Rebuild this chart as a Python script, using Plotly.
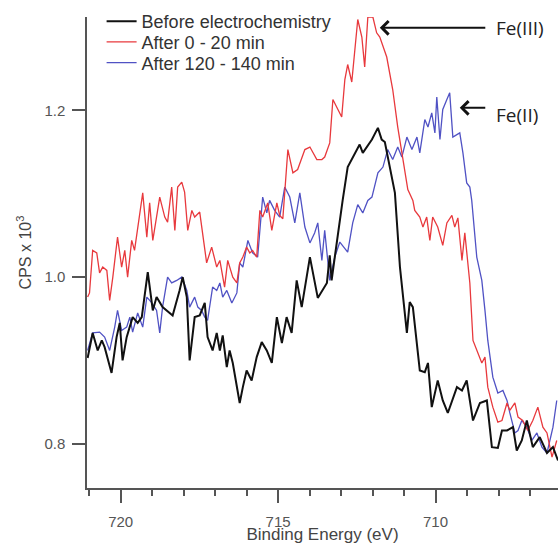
import plotly.graph_objects as go

# Binding energy (eV) and CPS x 10^3 values
before_energy = [721.05, 720.89, 720.73, 720.60, 720.51, 720.29, 720.13, 720.03, 719.94, 719.81,
                 719.62, 719.46, 719.33, 719.14, 718.98, 718.86, 718.67, 718.35, 718.13, 718.03,
                 717.90, 717.81, 717.65, 717.49, 717.33, 717.24, 717.08, 716.95, 716.85, 716.76,
                 716.63, 716.54, 716.44, 716.22, 716.12, 716.00, 715.84, 715.68, 715.52, 715.36,
                 715.20, 715.04, 714.88, 714.73, 714.57, 714.41, 714.25, 713.99, 713.74, 713.45,
                 713.36, 713.30, 713.20, 713.04, 712.95, 712.79, 712.41, 712.31, 712.18, 712.02,
                 711.83, 711.71, 711.61, 711.45, 711.29, 711.13, 710.91, 710.82, 710.72, 710.50,
                 710.34, 710.24, 710.12, 709.93, 709.77, 709.61, 709.32, 709.16, 709.01, 708.81,
                 708.59, 708.37, 708.21, 708.02, 707.89, 707.73, 707.54, 707.42, 707.26, 707.10,
                 706.91, 706.69, 706.46, 706.27, 706.11]
before_cps = [0.903, 0.933, 0.912, 0.924, 0.916, 0.885, 0.928, 0.945, 0.900, 0.928,
              0.952, 0.945, 0.952, 1.006, 0.960, 0.976, 0.964, 0.954, 0.984, 1.000,
              0.976, 0.900, 0.952, 0.954, 0.969, 0.928, 0.912, 0.933, 0.912, 0.930,
              0.892, 0.912, 0.897, 0.849, 0.868, 0.888, 0.876, 0.904, 0.922, 0.912,
              0.897, 0.952, 0.921, 0.952, 0.933, 0.996, 0.964, 1.024, 0.975, 0.993,
              1.026, 0.996, 1.024, 1.072, 1.092, 1.132, 1.159, 1.149, 1.156, 1.165,
              1.179, 1.165, 1.162, 1.132, 1.101, 1.012, 0.933, 0.970, 0.964, 0.888,
              0.886, 0.897, 0.844, 0.876, 0.852, 0.837, 0.868, 0.864, 0.876, 0.828,
              0.849, 0.852, 0.796, 0.795, 0.816, 0.816, 0.820, 0.792, 0.804, 0.828,
              0.796, 0.808, 0.789, 0.796, 0.780]

early_energy = [721.05, 720.99, 720.89, 720.76, 720.67, 720.57, 720.44, 720.35, 720.25, 720.10,
                719.97, 719.87, 719.78, 719.65, 719.56, 719.40, 719.30, 719.17, 719.08, 718.98,
                718.76, 718.60, 718.51, 718.38, 718.28, 718.19, 718.06, 717.97, 717.87, 717.74,
                717.65, 717.49, 717.27, 717.11, 716.95, 716.85, 716.70, 716.60, 716.44, 716.31,
                716.22, 716.12, 716.00, 715.90, 715.81, 715.68, 715.58, 715.49, 715.33, 715.20,
                715.04, 714.95, 714.85, 714.69, 714.53, 714.38, 714.15, 713.99, 713.77, 713.61,
                713.52, 713.36, 713.26, 713.10, 712.98, 712.88, 712.79, 712.66, 712.56, 712.47,
                712.34, 712.25, 712.15, 711.99, 711.87, 711.77, 711.55, 711.36, 711.20, 711.04,
                710.88, 710.72, 710.66, 710.50, 710.40, 710.28, 710.18, 710.09, 709.93, 709.77,
                709.64, 709.48, 709.39, 709.29, 709.16, 709.07, 708.91, 708.81, 708.66, 708.53,
                708.43, 708.34, 708.18, 708.02, 707.89, 707.73, 707.64, 707.48, 707.38, 707.23,
                707.07, 706.91, 706.75, 706.59, 706.46, 706.30, 706.15]
early_cps = [0.976, 0.981, 1.032, 1.029, 1.005, 1.012, 1.008, 0.972, 1.000, 1.048,
             1.012, 1.032, 1.000, 1.044, 1.032, 1.072, 1.101, 1.048, 1.089, 1.044,
             1.096, 1.072, 1.066, 1.108, 1.056, 1.108, 1.114, 1.102, 1.056, 1.080,
             1.072, 1.078, 1.017, 1.036, 1.012, 1.020, 0.988, 1.020, 1.000, 0.993,
             1.017, 1.024, 1.036, 1.029, 1.032, 1.024, 1.080, 1.072, 1.089, 1.056,
             1.089, 1.074, 1.070, 1.153, 1.125, 1.129, 1.153, 1.156, 1.141, 1.141,
             1.144, 1.161, 1.213, 1.201, 1.192, 1.237, 1.255, 1.234, 1.273, 1.309,
             1.288, 1.252, 1.312, 1.312, 1.293, 1.288, 1.264, 1.225, 1.180, 1.141,
             1.105, 1.092, 1.080, 1.072, 1.060, 1.072, 1.044, 1.072, 1.060, 1.038,
             1.065, 1.074, 1.060, 1.071, 1.020, 1.053, 0.993, 0.924, 0.909, 0.897,
             0.904, 0.868, 0.844, 0.826, 0.828, 0.849, 0.840, 0.849, 0.832, 0.828,
             0.816, 0.828, 0.844, 0.820, 0.813, 0.784, 0.804]

late_energy = [721.05, 720.89, 720.67, 720.51, 720.35, 720.19, 720.10, 719.97, 719.81, 719.71,
               719.62, 719.46, 719.30, 719.17, 719.01, 718.86, 718.76, 718.67, 718.51, 718.38,
               718.22, 718.06, 717.90, 717.81, 717.65, 717.55, 717.43, 717.33, 717.24, 717.08,
               716.95, 716.85, 716.76, 716.63, 716.47, 716.31, 716.22, 716.12, 715.96, 715.81,
               715.65, 715.49, 715.36, 715.27, 715.11, 714.95, 714.79, 714.63, 714.47, 714.31,
               714.15, 713.99, 713.84, 713.74, 713.61, 713.52, 713.36, 713.20, 713.04, 712.79,
               712.63, 712.47, 712.31, 712.15, 712.02, 711.83, 711.67, 711.52, 711.36, 711.20,
               711.07, 710.91, 710.75, 710.59, 710.50, 710.34, 710.24, 710.12, 710.02, 709.96,
               709.86, 709.77, 709.64, 709.55, 709.45, 709.23, 709.13, 709.01, 708.91, 708.85,
               708.69, 708.53, 708.43, 708.34, 708.18, 708.02, 707.86, 707.73, 707.64, 707.48,
               707.38, 707.26, 707.10, 706.94, 706.78, 706.62, 706.46, 706.27, 706.15]
late_cps = [0.912, 0.933, 0.934, 0.928, 0.912, 0.940, 0.960, 0.936, 0.940, 0.952,
            0.934, 0.957, 0.940, 0.976, 0.969, 0.960, 0.933, 0.964, 1.000, 0.993,
            0.996, 1.000, 0.984, 0.964, 0.976, 0.964, 0.960, 0.952, 0.948, 0.988,
            0.984, 0.993, 0.976, 0.984, 0.969, 0.981, 1.017, 1.012, 1.044, 1.029,
            1.024, 1.096, 1.077, 1.092, 1.080, 1.072, 1.108, 1.096, 1.065, 1.101,
            1.060, 1.041, 1.053, 1.065, 1.020, 1.056, 0.996, 1.024, 1.042, 1.030,
            1.065, 1.087, 1.077, 1.092, 1.096, 1.125, 1.132, 1.153, 1.141, 1.156,
            1.144, 1.168, 1.153, 1.168, 1.149, 1.189, 1.180, 1.197, 1.173, 1.216,
            1.165, 1.201, 1.213, 1.221, 1.168, 1.173, 1.149, 1.113, 1.108, 1.092,
            1.024, 0.996, 0.960, 0.924, 0.880, 0.861, 0.864, 0.852, 0.837, 0.813,
            0.816, 0.828, 0.820, 0.804, 0.813, 0.796, 0.789, 0.820, 0.852]

series_names = ["Before electrochemistry", "After 0 - 20 min", "After 120 - 140 min"]
x_tick_values = [720, 715, 710]
y_tick_values = [0.8, 1.0, 1.2]
peak_labels = ["Fe(III)", "Fe(II)"]
peak_positions = [711.77, 709.23]   # eV where arrows point
peak_levels = [1.299, 1.203]

AX = "#555555"
FONT = "Liberation Sans, Arial, sans-serif"
fig = go.Figure()
fig.add_trace(go.Scatter(x=late_energy, y=late_cps, mode="lines", name=series_names[2],
                         line=dict(color="#5052c4", width=1.3), legend="legend3"))
fig.add_trace(go.Scatter(x=early_energy, y=early_cps, mode="lines", name=series_names[1],
                         line=dict(color="#e8393d", width=1.3), legend="legend2"))
fig.add_trace(go.Scatter(x=before_energy, y=before_cps, mode="lines", name=series_names[0],
                         line=dict(color="#111111", width=2), legend="legend"))

leg_common = dict(xanchor="left", yanchor="middle", bgcolor="rgba(0,0,0,0)",
                  font=dict(family=FONT, size=18, color="#333333"), itemwidth=30)
annotations = []
annotations.append(dict(x=peak_positions[0], y=peak_levels[0], xref="x", yref="y", text="",
                        showarrow=True, ax=107, ay=0, arrowhead=4, arrowsize=1.3,
                        arrowwidth=2, arrowcolor="#111111"))
annotations.append(dict(x=peak_positions[1], y=peak_levels[1], xref="x", yref="y", text="",
                        showarrow=True, ax=27, ay=0, arrowhead=4, arrowsize=1.3,
                        arrowwidth=2, arrowcolor="#111111"))
annotations.append(dict(x=708.15, y=1.299, xref="x", yref="y", text=peak_labels[0], showarrow=False,
                        xanchor="left", yanchor="middle",
                        font=dict(family="Open Sans, sans-serif", size=19, color="#222222")))
annotations.append(dict(x=708.15, y=1.195, xref="x", yref="y", text=peak_labels[1], showarrow=False,
                        xanchor="left", yanchor="middle",
                        font=dict(family="Open Sans, sans-serif", size=19, color="#222222")))

fig.update_layout(
    width=558, height=544,
    margin=dict(l=87, r=0, t=17, b=56),
    paper_bgcolor="white", plot_bgcolor="white",
    showlegend=True,
    legend=dict(x=0.031, y=0.9906, **leg_common),
    legend2=dict(x=0.031, y=0.9466, **leg_common),
    legend3=dict(x=0.031, y=0.9026, **leg_common),
    annotations=annotations,
    xaxis=dict(range=[721.07, 706.11], tickvals=x_tick_values, ticks="outside", ticklen=13,
               tickwidth=1.5, tickcolor=AX, showline=True, linecolor=AX, linewidth=1.5,
               showgrid=False, zeroline=False, automargin=False,
               minor=dict(dtick=1, tick0=710, ticks="outside", ticklen=6, tickwidth=1.5, tickcolor=AX),
               tickfont=dict(family=FONT, size=15, color="#555555"),
               ticklabelstandoff=6,
               title=dict(text="Binding Energy (eV)",
                          font=dict(family=FONT, size=17, color="#444444"))),
    yaxis=dict(range=[0.747, 1.312], tickvals=y_tick_values, tickformat=".1f", ticks="outside",
               ticklen=13, tickwidth=1.5, tickcolor=AX, showline=True, linecolor=AX, linewidth=1.5,
               showgrid=False, zeroline=False, ticklabelstandoff=4, automargin=True,
               tickfont=dict(family=FONT, size=15, color="#555555"),
               title=dict(text="CPS x 10<sup>3</sup>", standoff=9,
                          font=dict(family=FONT, size=16, color="#444444"))),
)
# remove the default 8 px page margin so the 558x544 figure fills the window exactly
fig.write_html("out.html", config={"displayModeBar": False},
               post_script="document.body.style.margin='0';document.body.style.overflow='hidden';")
